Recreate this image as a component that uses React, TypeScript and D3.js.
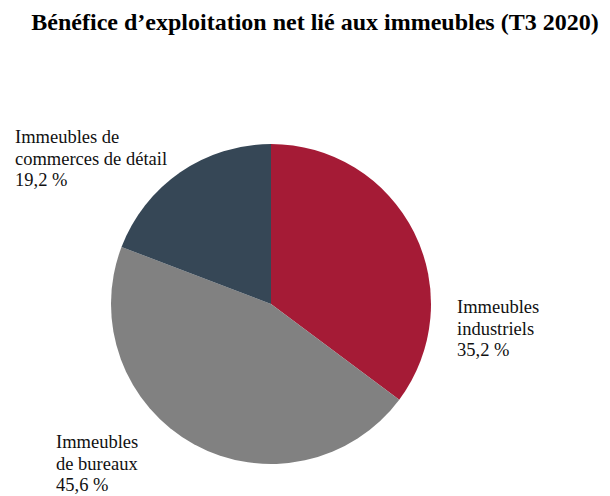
import * as React from "react";
import * as d3 from "d3";

const TITLE = "Bénéfice d’exploitation net lié aux immeubles (T3 2020)";
const categories = ["Immeubles industriels", "Immeubles de bureaux", "Immeubles de commerces de détail"];
const values = [35.2, 45.6, 19.2];
const colors = ["#a51b36", "#818181", "#364756"];
const labelLines = [
  ["Immeubles", "industriels", "35,2 %"],
  ["Immeubles", "de bureaux", "45,6 %"],
  ["Immeubles de", "commerces de détail", "19,2 %"],
];

const W = 610;
const H = 496;
const CX = 271;
const CY = 304;
const R = 160;
const FONT = "'Liberation Serif', 'Times New Roman', serif";
const LINE_H = 21.5;

// label anchors (left x, first baseline y)
const labelPos = [
  { x: 457, y: 313 },
  { x: 56, y: 448 },
  { x: 15, y: 143 },
];

export default function App() {
  const pie = d3.pie<number>().sort(null).value((d) => d);
  const arcs = pie(values);
  const arc = d3.arc<d3.PieArcDatum<number>>().innerRadius(0).outerRadius(R);

  return (
    <svg
      width={W}
      height={H}
      style={{ position: "absolute", left: 0, top: 0, background: "#fff" }}
      fontFamily={FONT}
    >
      <text x={315} y={30} textAnchor="middle" fontSize={24} fontWeight="bold" fill="#000">
        {TITLE}
      </text>
      <g transform={`translate(${CX},${CY})`}>
        {arcs.map((a, i) => (
          <path key={categories[i]} d={arc(a) ?? ""} fill={colors[i]} />
        ))}
      </g>
      {labelLines.map((lines, i) => (
        <text key={i} x={labelPos[i].x} y={labelPos[i].y} fontSize={18.5} fill="#111">
          {lines.map((l, j) => (
            <tspan key={j} x={labelPos[i].x} y={labelPos[i].y + j * LINE_H}>
              {l}
            </tspan>
          ))}
        </text>
      ))}
    </svg>
  );
}
